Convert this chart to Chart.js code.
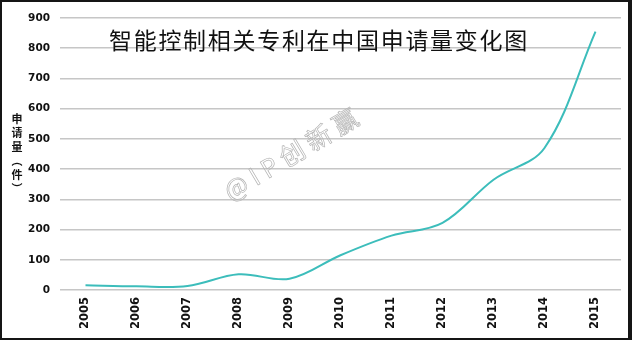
<!DOCTYPE html>
<html>
<head>
<meta charset="utf-8">
<script src="https://cdn.jsdelivr.net/npm/chart.js@4/dist/chart.umd.min.js"></script>
<style>
  html, body { margin: 0; padding: 0; background: #fff; }
  #wrap { position: relative; width: 632px; height: 340px; overflow: hidden; }
  #chart { position: absolute; left: 0; top: 0; }
  #frame { position: absolute; left: 0; top: 0; width: 632px; height: 340px; box-sizing: border-box;
           border: 2px solid #151515; border-right-width: 4px; pointer-events: none; }
  #title { position: absolute; left: 109px; top: 22px; font-family: "Noto Sans CJK SC"; font-size: 23px;
           letter-spacing: 1.7px; color: #111; white-space: nowrap; }
  #ytitle { position: absolute; left: 10px; top: 111px; width: 14px; text-align: center; font-family: "Noto Sans CJK SC";
            font-weight: bold; font-size: 11px; line-height: 14px; color: #111; }
  #mark { position: absolute; left: 225px; top: 174px; line-height: 36px; transform: rotate(-31deg); transform-origin: left center;
          font-family: "Noto Sans CJK SC"; font-size: 25px; letter-spacing: 6px; color: transparent;
          -webkit-text-stroke: 0.7px #b4b4b4; white-space: nowrap; }
</style>
</head>
<body>
<div id="wrap">
  <canvas id="chart" width="632" height="340"></canvas>
  <div id="title">智能控制相关专利在中国申请量变化图</div>
  <div id="ytitle">申<br>请<br>量<br>︵<br>件<br>︶</div>
  <div id="mark">@IP创新赢</div>
  <div id="frame"></div>
</div>
<script>
// ====== DATA ======
const years  = ['2005', '2006', '2007', '2008', '2009', '2010', '2011', '2012', '2013', '2014', '2015'];
const counts = [16, 12, 13, 52, 37, 115, 180, 222, 365, 470, 855];
const yTicks = [0, 100, 200, 300, 400, 500, 600, 700, 800, 900];

// ====== CHART ======
const ctx = document.getElementById('chart').getContext('2d');

new Chart(ctx, {
  type: 'line',
  data: {
    labels: years,
    datasets: [{
      data: counts,
      borderColor: '#3cbdbb',
      borderWidth: 2,
      pointRadius: 0,
      tension: 0.35,
      fill: false
    }]
  },
  options: {
    responsive: false,
    animation: false,
    layout: { padding: { left: 0, right: 11, top: 18, bottom: 0 } },
    plugins: { legend: { display: false }, tooltip: { enabled: false } },
    scales: {
      x: {
        offset: true,
        grid: { display: false, drawTicks: false },
        border: { display: false },
        ticks: {
          minRotation: 90, maxRotation: 90, padding: 7, color: '#111',
          font: { family: 'DejaVu Sans', weight: 'bold', size: 11.5 }
        },
        afterFit: s => { s.height = 50; }
      },
      y: {
        min: 0, max: 900,
        afterBuildTicks: s => { s.ticks = yTicks.map(v => ({ value: v })); },
        grid: { color: '#c6c6c6', lineWidth: 1.6, drawTicks: false },
        border: { display: false },
        ticks: {
          padding: 10, color: '#111',
          font: { family: 'DejaVu Sans', weight: 'bold', size: 10.5 }
        },
        afterFit: s => { s.width = 60; }
      }
    }
  }
});
</script>
</body>
</html>
